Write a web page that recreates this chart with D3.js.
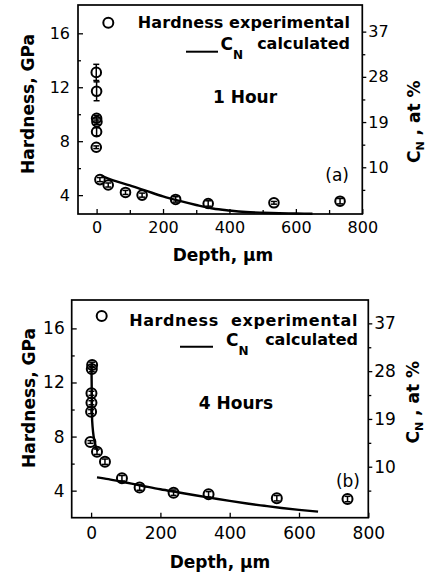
<!DOCTYPE html>
<html>
<head>
<meta charset="utf-8">
<script src="https://cdn.jsdelivr.net/npm/d3@7"></script>
<style>
body { margin: 0; background: #fff; }
text { font-family: "DejaVu Sans", sans-serif; fill: #000; }
</style>
</head>
<body>
<script>
var w = 429;
var h = 576;

// shared tick values
var hardTicks = [4, 8, 12, 16];
var hardMinor = [6, 10, 14];
var cnTicks = [10, 19, 28, 37];
var cnMinor = [5.5, 14.5, 23.5, 32.5];
var depthTicks = [0, 200, 400, 600, 800];

// (a) 1 hour: hardness points (depth um, GPa, error)
var depth1 = [-1, 0, 0, 1, 0, -1, 10, 35, 87, 137, 238, 336, 534, 733];
var hard1 = [13.1, 11.7, 9.7, 9.45, 8.7, 7.55, 5.15, 4.75, 4.2, 4.0, 3.68, 3.38, 3.43, 3.55];
var err1 = [0.6, 0.7, 0.2, 0.2, 0.3, 0.1, 0.15, 0.15, 0.15, 0.15, 0.2, 0.2, 0.1, 0.2];
// (a) calculated C_N, at %
var curveDepth1 = [15, 50, 100, 150, 200, 250, 300, 350, 400, 450, 500, 550, 600, 650];
var curveCN1 = [8.3, 7.4, 6.4, 5.3, 4.2, 3.3, 2.5, 1.8, 1.4, 1.1, 0.95, 0.85, 0.8, 0.75];

// (b) 4 hours
var depth4 = [3, 2, 1, 1, 0, -2, 17, 40, 89, 140, 238, 339, 536, 740];
var hard4 = [13.3, 13.0, 11.2, 10.5, 9.84, 7.6, 6.88, 6.14, 4.92, 4.23, 3.85, 3.73, 3.44, 3.38];
var err4 = [0.2, 0.2, 0.15, 0.15, 0.15, 0.1, 0.2, 0.2, 0.2, 0.2, 0.2, 0.2, 0.2, 0.2];
var surfDepth4 = [1, 2, 3, 10, 20];
var surfCN4 = [29.2, 23.8, 18.7, 14.7, 12.9];
var curveDepth4 = [17, 50, 100, 150, 200, 250, 300, 350, 400, 450, 500, 550, 600, 655];
var curveCN4 = [8.0, 7.66, 7.02, 6.38, 5.75, 5.19, 4.63, 4.09, 3.56, 3.07, 2.64, 2.23, 1.88, 1.54];

var svg = d3.select("body")
        .append("svg")
        .attr("width", w)
        .attr("height", h);

function drawPanel(p) {
    var x = d3.scaleLinear().domain([-56, 800]).range([p.left, p.right]);
    var y = d3.scaleLinear().domain(p.yDom).range([p.bottom, p.top]);
    var c = d3.scaleLinear().domain(p.cDom).range([p.bottom, p.top]);
    var g = svg.append("g");

    function styleAxis(ax, size) {
        ax.select(".domain").remove();
        ax.attr("font-family", null).attr("font-size", null);
        ax.selectAll("text").style("font-size", size + "px");
        ax.selectAll("line").attr("stroke", "#000").attr("stroke-width", 1.3);
    }

    var left = g.append("g")
            .attr("transform", "translate(" + p.left + ",0)")
            .call(d3.axisLeft(y).tickValues(hardTicks).tickSize(-5).tickPadding(p.leftPad));
    styleAxis(left, p.tickFont);
    var leftMinor = g.append("g")
            .attr("transform", "translate(" + p.left + ",0)")
            .call(d3.axisLeft(y).tickValues(hardMinor).tickSize(-3).tickFormat(""));
    styleAxis(leftMinor, p.tickFont);

    var bottom = g.append("g")
            .attr("transform", "translate(0," + p.bottom + ")")
            .call(d3.axisBottom(x).tickValues(depthTicks).tickSize(-5).tickPadding(p.bottomPad));
    styleAxis(bottom, p.tickFont);
    if (p.depthMinor) {
        var bottomMinor = g.append("g")
                .attr("transform", "translate(0," + p.bottom + ")")
                .call(d3.axisBottom(x).tickValues(p.depthMinor).tickSize(-4).tickFormat(""));
        styleAxis(bottomMinor, p.tickFont);
    }

    var right = g.append("g")
            .attr("transform", "translate(" + p.right + ",0)")
            .call(d3.axisRight(c).tickValues(cnTicks).tickSize(4).tickPadding(2));
    styleAxis(right, p.tickFont);
    var rightMinor = g.append("g")
            .attr("transform", "translate(" + p.right + ",0)")
            .call(d3.axisRight(c).tickValues(cnMinor).tickSize(3).tickFormat(""));
    styleAxis(rightMinor, p.tickFont);

    g.append("rect")
            .attr("x", p.left)
            .attr("y", p.top)
            .attr("width", p.right - p.left)
            .attr("height", p.bottom - p.top)
            .style("fill", "none")
            .style("stroke", "#000")
            .style("stroke-width", 1.7);

    // calculated curve(s)
    var line = d3.line()
            .x(function (d) { return x(d[0]); })
            .y(function (d) { return c(d[1]); })
            .curve(d3.curveMonotoneX);
    p.curves.forEach(function (cv) {
        g.append("path")
                .datum(d3.zip(cv[0], cv[1]))
                .attr("d", line)
                .style("fill", "none")
                .style("stroke", "#000")
                .style("stroke-width", 2.4);
    });

    // experimental points with error bars
    var pts = d3.range(p.depth.length).map(function (i) {
        return {d: p.depth[i], h: p.hard[i], e: p.err[i]};
    });
    var eb = g.selectAll(".eb").data(pts).enter().append("g")
            .style("stroke", "#000")
            .style("stroke-width", 1.5);
    eb.append("line")
            .attr("x1", function (d) { return x(d.d); })
            .attr("x2", function (d) { return x(d.d); })
            .attr("y1", function (d) { return y(d.h - d.e); })
            .attr("y2", function (d) { return y(d.h + d.e); });
    [-1, 1].forEach(function (s) {
        eb.append("line")
                .attr("x1", function (d) { return x(d.d) - 3; })
                .attr("x2", function (d) { return x(d.d) + 3; })
                .attr("y1", function (d) { return y(d.h + s * d.e); })
                .attr("y2", function (d) { return y(d.h + s * d.e); });
    });
    g.selectAll(".pt").data(pts).enter().append("circle")
            .attr("cx", function (d) { return x(d.d); })
            .attr("cy", function (d) { return y(d.h); })
            .attr("r", p.r)
            .style("fill", "none")
            .style("stroke", "#000")
            .style("stroke-width", 2);

    // legend
    var L = p.legend;
    g.append("circle")
            .attr("cx", L.cx).attr("cy", L.cy).attr("r", 5)
            .style("fill", "none").style("stroke", "#000").style("stroke-width", 2);
    g.append("text")
            .attr("x", L.right).attr("y", L.y1)
            .attr("text-anchor", "end")
            .style("font-size", "16px").style("font-weight", "bold")
            .style("letter-spacing", L.spacing + "px")
            .style("white-space", "pre")
            .text(L.label);
    g.append("line")
            .attr("x1", L.lx1).attr("x2", L.lx2).attr("y1", L.ly).attr("y2", L.ly)
            .style("stroke", "#000").style("stroke-width", 2);
    var cn = g.append("text")
            .attr("x", L.cx2).attr("y", L.y2)
            .style("font-weight", "bold");
    cn.append("tspan").style("font-size", "17px").text("C");
    cn.append("tspan").style("font-size", "12px").attr("dy", 9).text("N");
    g.append("text")
            .attr("x", L.right).attr("y", L.y2 - 1)
            .attr("text-anchor", "end")
            .style("font-size", "16px").style("font-weight", "bold")
            .text("calculated");

    g.append("text")
            .attr("x", p.hourX).attr("y", p.hourY)
            .attr("text-anchor", "middle")
            .style("font-size", "17px").style("font-weight", "bold")
            .text(p.hour);
    g.append("text")
            .attr("x", p.tagX).attr("y", p.tagY)
            .attr("text-anchor", "end")
            .style("font-size", "17px")
            .text(p.tag);

    // axis titles
    g.append("text")
            .attr("transform", "translate(" + p.xTitle[0] + "," + p.xTitle[1] + ")")
            .attr("text-anchor", "middle")
            .style("font-size", "17px").style("font-weight", "bold")
            .text("Depth, \u03bcm");
    g.append("text")
            .attr("transform", "translate(" + p.yTitle[0] + "," + p.yTitle[1] + ") rotate(-90)")
            .attr("text-anchor", "middle")
            .style("font-size", "17px").style("font-weight", "bold")
            .text("Hardness, GPa");
    var rt = g.append("text")
            .attr("transform", "translate(" + p.cTitle[0] + "," + p.cTitle[1] + ") rotate(-90)")
            .style("font-weight", "bold");
    rt.append("tspan").style("font-size", "17px").text("C");
    rt.append("tspan").style("font-size", "11px").attr("dy", 4).text("N");
    rt.append("tspan").style("font-size", "17px").attr("dy", -4).style("white-space", "pre").text(" , at %");
}

drawPanel({
    left: 78, right: 362.3, top: 5, bottom: 214,
    yDom: [2.6, 18.1], cDom: [0.7, 42.3],
    tickFont: 16, leftPad: 8, bottomPad: 8,
    depthMinor: [100, 300, 500, 700],
    depth: depth1, hard: hard1, err: err1, r: 4.8,
    curves: [[curveDepth1, curveCN1]],
    legend: {label: "Hardness experimental", spacing: 0.1, cx: 108.3, cy: 22.7, right: 350, y1: 28.4,
             lx1: 186, lx2: 218, ly: 51.7, cx2: 220.5, y2: 50},
    hour: "1 Hour", hourX: 245, hourY: 103,
    tag: "(a)", tagX: 349, tagY: 181,
    xTitle: [223, 261], yTitle: [34, 104], cTitle: [420, 163]
});

drawPanel({
    left: 71.7, right: 368.3, top: 300, bottom: 517.7,
    yDom: [2.0, 18.1], cDom: [0.4, 41.4],
    tickFont: 17, leftPad: 7, bottomPad: 9,
    depthMinor: null,
    depth: depth4, hard: hard4, err: err4, r: 5,
    curves: [[surfDepth4, surfCN4], [curveDepth4, curveCN4]],
    legend: {label: "Hardness  experimental", spacing: 0.6, cx: 101.7, cy: 316, right: 358, y1: 326,
             lx1: 180, lx2: 213, ly: 346.7, cx2: 226, y2: 346},
    hour: "4 Hours", hourX: 236, hourY: 409,
    tag: "(b)", tagX: 360, tagY: 487,
    xTitle: [220, 568], yTitle: [35, 398], cTitle: [419, 443.5]
});
</script>
</body>
</html>
